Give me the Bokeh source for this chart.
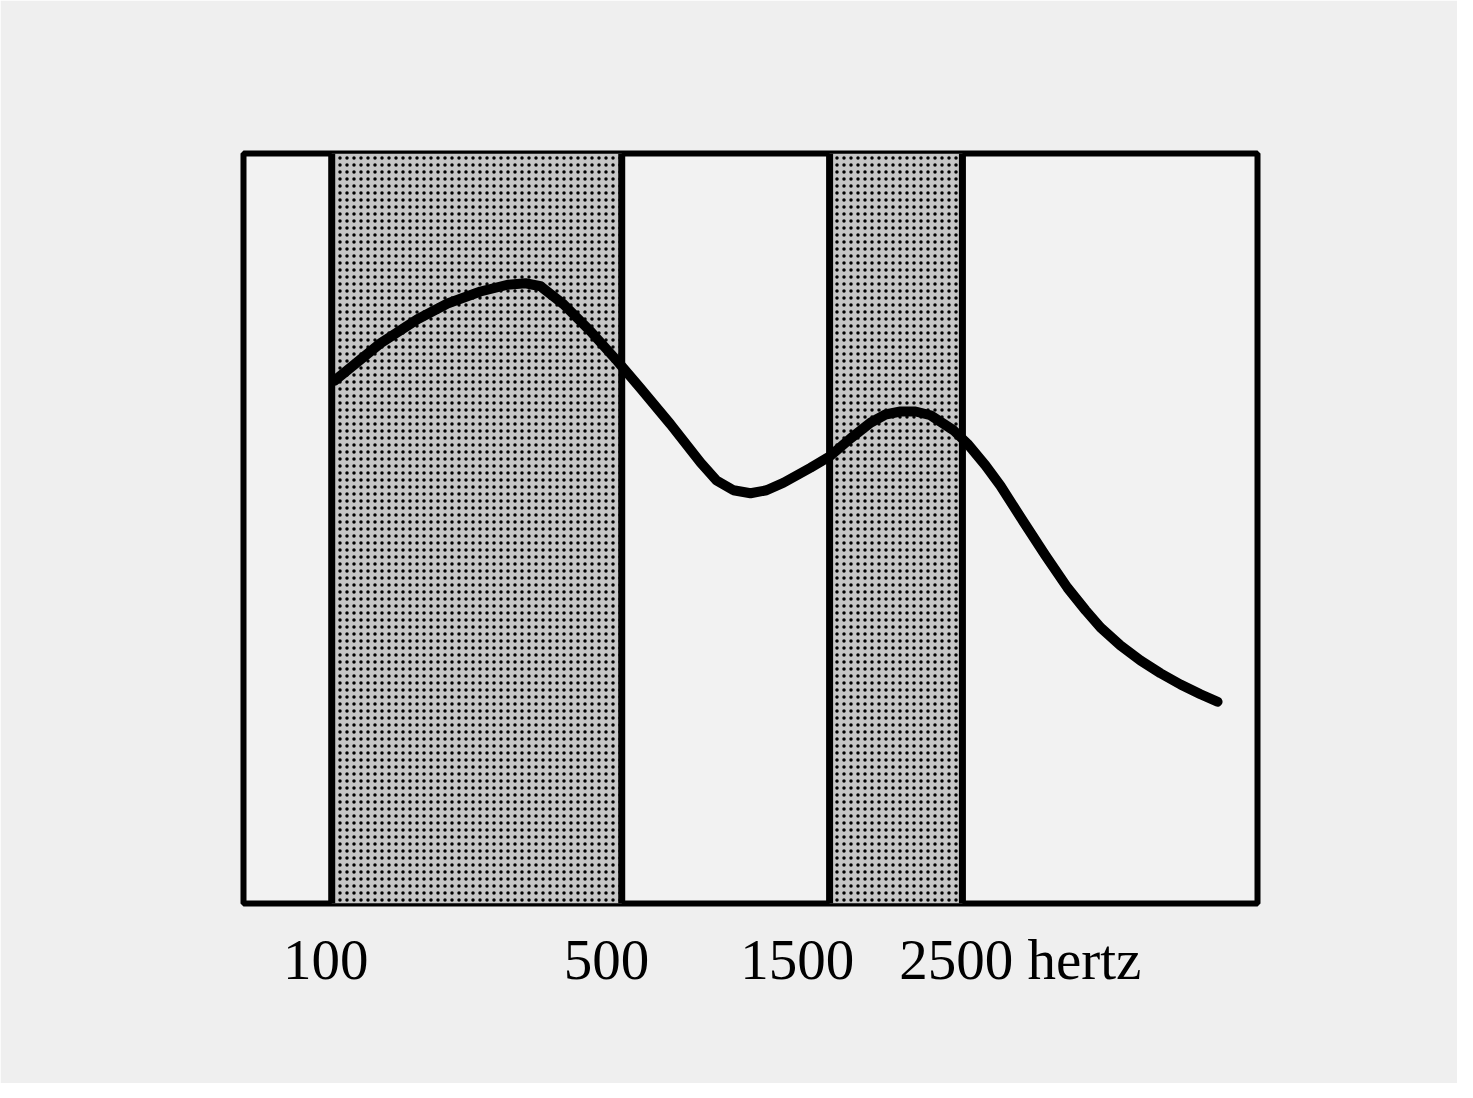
from bokeh.plotting import figure
from bokeh.models import Range1d, FixedTicker
from bokeh.embed import file_html
from bokeh.resources import INLINE

# Band edges (position units across the frame, 0..100)
band_edges = [8.7, 37.3, 57.8, 70.9]
shaded_left = [8.7, 57.8]
shaded_right = [37.3, 70.9]

# Frequency labels and where they sit
tick_labels = ["100", "500", "1500", "2500 hertz"]
tick_pos = [8.1, 35.8, 54.6, 76.6]

# Spectral envelope curve
curve_x = [8.97, 13.51, 17.16, 20.12, 23.37, 26.04, 27.81, 29.29, 31.56, 34.22,
           36.88, 39.15, 42.11, 45.07, 46.65, 48.32, 50.0, 51.58, 53.25, 55.92,
           57.79, 59.86, 61.83, 63.31, 64.79, 66.27, 67.75, 70.02, 71.40, 73.18,
           74.65, 76.92, 79.09, 81.26, 83.04, 84.52, 86.49, 88.46, 90.43, 92.41,
           94.38, 96.06]
curve_y = [69.7, 74.7, 77.9, 80.0, 81.6, 82.5, 82.7, 82.3, 79.9, 76.3,
           72.3, 68.7, 63.9, 58.8, 56.4, 55.1, 54.7, 55.1, 56.1, 58.1,
           59.6, 62.0, 64.1, 65.2, 65.6, 65.6, 65.1, 63.1, 61.3, 58.4,
           55.7, 50.9, 46.4, 42.1, 39.1, 36.8, 34.4, 32.4, 30.7, 29.2,
           27.9, 26.9]

p = figure(frame_width=1014, frame_height=750, output_backend="svg",
           toolbar_location=None, x_range=Range1d(0, 100), y_range=Range1d(0, 100),
           min_border_left=243, min_border_right=200, min_border_top=153,
           min_border_bottom=180)

p.border_fill_color = "#efefef"
p.background_fill_color = "#f2f2f2"
p.outline_line_color = "black"
p.outline_line_width = 6
p.xgrid.visible = False
p.ygrid.visible = False
p.yaxis.visible = False

p.quad(left=shaded_left, right=shaded_right, bottom=0, top=100,
       fill_color="#c6c6c6", line_color=None,
       hatch_pattern="dot", hatch_color="black", hatch_scale=7, hatch_weight=4)

p.segment(x0=band_edges, x1=band_edges, y0=[0] * 4, y1=[100] * 4,
          line_color="black", line_width=7)

p.line(curve_x, curve_y, line_color="black", line_width=10,
       line_join="round", line_cap="round")

ax = p.xaxis[0]
ax.ticker = FixedTicker(ticks=tick_pos)
ax.major_label_overrides = {t: l for t, l in zip(tick_pos, tick_labels)}
ax.axis_line_color = None
ax.major_tick_line_color = None
ax.minor_tick_line_color = None
ax.major_label_text_font = "Liberation Serif"
ax.major_label_text_font_size = "57px"
ax.major_label_text_color = "black"
ax.major_label_standoff = 18

open("out.html", "w").write(file_html(p, INLINE))
